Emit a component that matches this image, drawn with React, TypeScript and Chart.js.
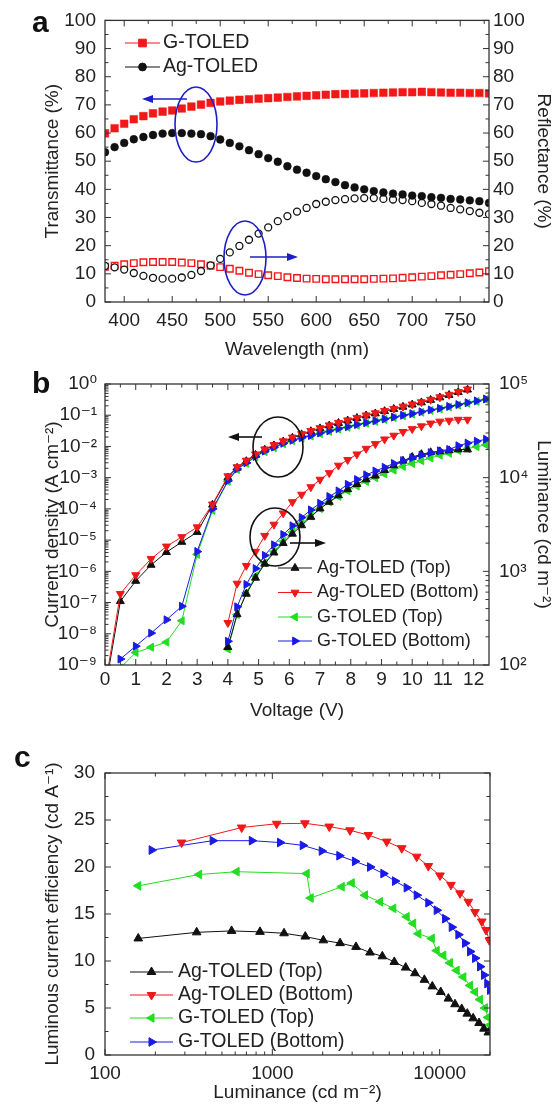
import React, { useEffect, useRef } from 'react';
import { Chart, registerables } from 'chart.js';

Chart.register(...registerables);

const FONT = "'Liberation Sans', Arial, 'DejaVu Sans', sans-serif";
const TXT = '#222222';
const AXIS = '#333333';
const RED = '#f01818';
const BLK = '#111111';
const GRN = '#22dd22';
const BLU = '#1a1ae6';
const ANN_BLUE = '#1e1ec8';

// ---------------- Panel a: transmittance / reflectance ----------------
const WAVELENGTH = [380, 390, 400, 410, 420, 430, 440, 450, 460, 470, 480, 490, 500, 510, 520, 530, 540, 550, 560, 570, 580, 590, 600, 610, 620, 630, 640, 650, 660, 670, 680, 690, 700, 710, 720, 730, 740, 750, 760, 770, 780];
const T_G_TOLED = [59.9, 61.7, 63.3, 64.9, 66.0, 67.0, 67.6, 68.0, 68.7, 69.4, 70.1, 70.7, 71.2, 71.5, 71.8, 72.0, 72.2, 72.4, 72.6, 72.8, 73.0, 73.2, 73.4, 73.6, 73.8, 73.9, 74.0, 74.1, 74.2, 74.3, 74.4, 74.5, 74.5, 74.6, 74.5, 74.4, 74.3, 74.3, 74.2, 74.2, 74.1];
const T_AG_TOLED = [53.2, 55.0, 56.5, 57.8, 58.6, 59.3, 59.8, 60.0, 60.0, 59.8, 59.6, 58.9, 57.7, 56.5, 55.3, 53.9, 52.5, 51.1, 49.8, 48.2, 47.0, 45.9, 44.7, 43.6, 42.6, 41.5, 40.7, 40.0, 39.4, 38.9, 38.5, 38.2, 37.8, 37.6, 37.2, 37.0, 36.6, 36.4, 36.1, 35.8, 35.2];
const R_G_TOLED = [12.5, 12.9, 13.4, 13.8, 14.1, 14.2, 14.2, 14.2, 14.0, 13.8, 13.4, 12.9, 12.4, 11.8, 11.1, 10.4, 9.9, 9.5, 9.2, 8.8, 8.5, 8.3, 8.2, 8.1, 8.1, 8.1, 8.1, 8.1, 8.2, 8.3, 8.4, 8.6, 8.8, 9.0, 9.2, 9.5, 9.7, 9.9, 10.2, 10.5, 10.9];
const R_AG_TOLED = [12.8, 12.3, 11.5, 10.3, 9.3, 8.6, 8.3, 8.3, 8.7, 9.6, 11.0, 13.0, 15.3, 17.6, 19.9, 22.1, 24.3, 26.5, 28.7, 30.5, 32.1, 33.4, 34.8, 35.6, 36.2, 36.5, 36.8, 36.9, 36.9, 36.6, 36.4, 36.2, 35.8, 35.2, 34.8, 34.2, 33.4, 32.9, 32.3, 31.7, 31.2];
const WL_TICKS = [400, 450, 500, 550, 600, 650, 700, 750];
const WL_MINOR = [425, 475, 525, 575, 625, 675, 725, 775];
const PCT_TICKS = [0, 10, 20, 30, 40, 50, 60, 70, 80, 90, 100];
const PCT_MINOR = [5, 15, 25, 35, 45, 55, 65, 75, 85, 95];

// ---------------- Panel b: J-V-L ----------------
const V_AG = [0, 0.5, 1, 1.5, 2, 2.5, 3, 3.5, 4, 4.3, 4.6, 4.9, 5.2, 5.5, 5.8, 6.1, 6.4, 6.7, 7, 7.3, 7.6, 7.9, 8.2, 8.5, 8.8, 9.1, 9.4, 9.7, 10, 10.3, 10.6, 10.9, 11.2, 11.5, 11.8];
const J_AG_TOP = [1.5e-10, 1.1e-7, 4.9e-7, 1.6e-6, 4.1e-6, 8.7e-6, 1.8e-5, 1.35e-4, 1.0e-3, 2.05e-3, 3.35e-3, 5.3e-3, 7.8e-3, 1.07e-2, 1.42e-2, 1.87e-2, 2.42e-2, 3.05e-2, 3.76e-2, 4.64e-2, 5.57e-2, 6.7e-2, 8.05e-2, 9.7e-2, 0.113, 0.134, 0.157, 0.185, 0.217, 0.255, 0.306, 0.368, 0.443, 0.545, 0.655];
const J_AG_BOTTOM = [2e-10, 1.9e-7, 7.6e-7, 2.5e-6, 6.3e-6, 1.26e-5, 2.6e-5, 1.4e-4, 1.12e-3, 2.19e-3, 3.55e-3, 5.62e-3, 8.13e-3, 1.12e-2, 1.48e-2, 1.95e-2, 2.51e-2, 3.16e-2, 3.89e-2, 4.79e-2, 5.75e-2, 6.92e-2, 8.32e-2, 0.1, 0.117, 0.138, 0.162, 0.191, 0.224, 0.263, 0.316, 0.38, 0.457, 0.562, 0.676];
const V_G = [0.5, 1, 1.5, 2, 2.5, 3, 3.5, 4, 4.3, 4.6, 4.9, 5.2, 5.5, 5.8, 6.1, 6.4, 6.7, 7, 7.3, 7.6, 7.9, 8.2, 8.5, 8.8, 9.1, 9.4, 9.7, 10, 10.3, 10.6, 10.9, 11.2, 11.5, 11.8, 12.1, 12.4];
const J_G_TOP = [8e-10, 2.5e-9, 3.7e-9, 5.4e-9, 2.6e-8, 3.5e-6, 8.9e-5, 7.6e-4, 1.82e-3, 2.88e-3, 4.6e-3, 6.8e-3, 9.1e-3, 1.21e-2, 1.52e-2, 1.83e-2, 2.15e-2, 2.58e-2, 3.03e-2, 3.57e-2, 4.1e-2, 4.8e-2, 5.52e-2, 6.34e-2, 7.3e-2, 8.35e-2, 9.6e-2, 0.108, 0.124, 0.142, 0.159, 0.183, 0.21, 0.241, 0.276, 0.318];
const J_G_BOTTOM = [1.55e-9, 4.0e-9, 1.05e-8, 2.8e-8, 7.6e-8, 4.3e-6, 1.0e-4, 7.9e-4, 1.9e-3, 3.0e-3, 4.8e-3, 7.1e-3, 9.5e-3, 1.26e-2, 1.58e-2, 1.9e-2, 2.24e-2, 2.69e-2, 3.16e-2, 3.72e-2, 4.27e-2, 5.0e-2, 5.75e-2, 6.6e-2, 7.6e-2, 8.7e-2, 0.1, 0.112, 0.129, 0.148, 0.166, 0.191, 0.219, 0.251, 0.288, 0.331];
const V_LUM_AG = [4, 4.3, 4.6, 4.9, 5.2, 5.5, 5.8, 6.1, 6.4, 6.7, 7, 7.3, 7.6, 7.9, 8.2, 8.5, 8.8, 9.1, 9.4, 9.7, 10, 10.3, 10.6, 10.9, 11.2, 11.5, 11.8];
const L_AG_TOP = [155, 347, 575, 851, 1202, 1585, 1995, 2512, 3090, 3802, 4677, 5495, 6457, 7499, 8511, 9550, 10470, 12020, 13490, 15140, 16600, 17780, 18620, 19050, 19500, 19950, 19950];
const L_AG_BOTTOM = [282, 741, 1148, 1622, 2399, 3162, 4169, 5495, 6607, 7943, 9550, 11220, 13490, 15490, 17780, 20420, 22910, 25700, 28180, 30900, 33110, 35480, 38020, 39810, 40740, 41690, 41690];
const V_LUM_G = [4, 4.3, 4.6, 4.9, 5.2, 5.5, 5.8, 6.1, 6.4, 6.7, 7, 7.3, 7.6, 7.9, 8.2, 8.5, 8.8, 9.1, 9.4, 9.7, 10, 10.3, 10.6, 10.9, 11.2, 11.5, 11.8, 12.1, 12.4];
const L_G_TOP = [148, 346, 589, 891, 1230, 1622, 2089, 2630, 3236, 3890, 4677, 5495, 6310, 7244, 8128, 9120, 10000, 10960, 12020, 13180, 14130, 15140, 16220, 17380, 18200, 19500, 20420, 21380, 22390];
const L_G_BOTTOM = [179, 418, 725, 1070, 1480, 1920, 2470, 3060, 3760, 4530, 5330, 6280, 7220, 8490, 9550, 10720, 11770, 12900, 14180, 15200, 16300, 17460, 18480, 19360, 20000, 21900, 23400, 24500, 25700];
const V_TICKS = [0, 1, 2, 3, 4, 5, 6, 7, 8, 9, 10, 11, 12];
const V_MINOR = [0.5, 1.5, 2.5, 3.5, 4.5, 5.5, 6.5, 7.5, 8.5, 9.5, 10.5, 11.5];
const J_TICKS = [1e-9, 1e-8, 1e-7, 1e-6, 1e-5, 1e-4, 1e-3, 1e-2, 1e-1, 1];
const LUM_TICKS = [1e2, 1e3, 1e4, 1e5];

// ---------------- Panel c: efficiency vs luminance ----------------
const C_L_AG_TOP = [158, 353, 571, 844, 1175, 1574, 2018, 2541, 3164, 3837, 4545, 5357, 6267, 7122, 8105, 9043, 10150, 11280, 12360, 13550, 14630, 15860, 17200, 18410, 19540];
const CE_AG_TOP = [12.4, 13.05, 13.2, 13.1, 12.95, 12.6, 12.2, 11.9, 11.5, 10.9, 10.5, 9.9, 9.3, 8.7, 8.0, 7.3, 6.7, 6.0, 5.4, 4.9, 4.4, 3.9, 3.4, 2.8, 2.4];
const C_L_AG_BOTTOM = [287, 656, 1062, 1567, 2190, 2913, 3748, 4828, 5935, 7294, 8557, 10050, 11690, 13240, 14840, 16280, 17860, 18930, 19820];
const CE_AG_BOTTOM = [22.6, 24.2, 24.6, 24.65, 24.3, 23.9, 23.4, 22.7, 22.0, 21.1, 20.1, 19.1, 18.1, 17.2, 16.3, 15.2, 14.2, 13.3, 12.2];
const C_L_G_TOP = [158, 365, 612, 1606, 1696, 2600, 2985, 3581, 4403, 5288, 6353, 6950, 7464, 8977, 9604, 10520, 11530, 12640, 13860, 15200, 16280, 17430, 18670, 19450, 20000];
const CE_G_TOP = [18.0, 19.2, 19.5, 19.3, 16.7, 17.9, 18.3, 17.0, 16.3, 15.6, 14.7, 14.0, 12.9, 12.4, 11.1, 10.6, 9.8, 9.0, 8.3, 7.4, 6.7, 5.9, 5.0, 4.0, 3.2];
const C_L_G_BOTTOM = [190, 440, 754, 1112, 1520, 1974, 2514, 3118, 3837, 4608, 5408, 6353, 7294, 8557, 9604, 10780, 11810, 12940, 14190, 15200, 16280, 17430, 18410, 19260, 20000];
const CE_G_BOTTOM = [21.8, 22.8, 22.8, 22.6, 22.3, 21.7, 21.2, 20.6, 20.0, 19.3, 18.5, 17.8, 17.0, 16.2, 15.4, 14.5, 13.6, 12.8, 11.9, 11.0, 10.3, 9.4, 8.5, 7.6, 6.9];
const LUMC_TICKS = [100, 1000, 10000];
const CE_TICKS = [0, 5, 10, 15, 20, 25, 30];
const CE_MINOR = [2.5, 7.5, 12.5, 17.5, 22.5, 27.5];

// --------------- helpers ---------------
const SUP: Record<string, string> = { '-': '\u207B', '0': '\u2070', '1': '\u00B9', '2': '\u00B2', '3': '\u00B3', '4': '\u2074', '5': '\u2075', '6': '\u2076', '7': '\u2077', '8': '\u2078', '9': '\u2079' };
const sup = (n: number) => String(n).split('').map((c) => SUP[c] || c).join('');
const pow10Label = (v: number) => '10' + sup(Math.round(Math.log10(v)));
const xy = (xs: number[], ys: number[]) => xs.map((x, i) => ({ x, y: ys[i] }));
const logMinor = (fromExp: number, toExp: number) => {
  const out: number[] = [];
  for (let e = fromExp; e < toExp; e++) for (let m = 2; m <= 9; m++) out.push(m * Math.pow(10, e));
  return out;
};
const setTicks = (vals: number[]) => (s: any) => { s.ticks = vals.map((v) => ({ value: v })); };
const fnt = (size: number) => ({ family: FONT, size });

function drawMarker(ctx: CanvasRenderingContext2D, style: string, rot: number, r: number, fill: string, stroke: string, x: number, y: number, bw: number) {
  ctx.save();
  ctx.fillStyle = fill;
  ctx.strokeStyle = stroke;
  ctx.lineWidth = bw;
  ctx.beginPath();
  if (style === 'circle') ctx.arc(x, y, r, 0, Math.PI * 2);
  else if (style === 'rect') { const s = r * Math.SQRT1_2; ctx.rect(x - s, y - s, 2 * s, 2 * s); }
  else {
    let a = (rot * Math.PI) / 180;
    ctx.moveTo(x + Math.sin(a) * r, y - Math.cos(a) * r);
    a += (2 * Math.PI) / 3;
    ctx.lineTo(x + Math.sin(a) * r, y - Math.cos(a) * r);
    a += (2 * Math.PI) / 3;
    ctx.lineTo(x + Math.sin(a) * r, y - Math.cos(a) * r);
    ctx.closePath();
  }
  ctx.fill();
  ctx.stroke();
  ctx.restore();
}

interface DecoCfg {
  ticks: { scale: string; sides: string[]; major: number[]; minor: number[] }[];
  letter: { text: string; x: number; y: number };
  legend?: { x1: number; x2: number; tx: number; size: number; items: { ds: number; y: number }[] };
  ellipses?: { cx: number; cy: number; rx: number; ry: number; color: string }[];
  arrows?: { x1: number; x2: number; y: number; color: string }[];
}

const deco = (cfg: DecoCfg) => ({
  id: 'deco',
  afterDraw(chart: any) {
    const ctx = chart.ctx as CanvasRenderingContext2D;
    const a = chart.chartArea;
    ctx.save();
    ctx.strokeStyle = AXIS;
    ctx.lineWidth = 1;
    for (const t of cfg.ticks) {
      const s = chart.scales[t.scale];
      const run = (vals: number[], len: number) => {
        for (const v of vals) {
          const p = s.getPixelForValue(v);
          for (const side of t.sides) {
            ctx.beginPath();
            if (side === 'bottom') { ctx.moveTo(p, a.bottom); ctx.lineTo(p, a.bottom - len); }
            else if (side === 'top') { ctx.moveTo(p, a.top); ctx.lineTo(p, a.top + len); }
            else if (side === 'left') { ctx.moveTo(a.left, p); ctx.lineTo(a.left + len, p); }
            else { ctx.moveTo(a.right, p); ctx.lineTo(a.right - len, p); }
            ctx.stroke();
          }
        }
      };
      run(t.major, 6);
      run(t.minor, 3.5);
    }
    ctx.lineWidth = 1.3;
    ctx.strokeRect(a.left, a.top, a.right - a.left, a.bottom - a.top);

    // annotations
    for (const e of cfg.ellipses || []) {
      ctx.strokeStyle = e.color;
      ctx.lineWidth = 1.6;
      ctx.beginPath();
      ctx.ellipse(e.cx, e.cy, e.rx, e.ry, 0, 0, Math.PI * 2);
      ctx.stroke();
    }
    for (const ar of cfg.arrows || []) {
      const dir = Math.sign(ar.x2 - ar.x1);
      ctx.strokeStyle = ar.color;
      ctx.fillStyle = ar.color;
      ctx.lineWidth = 1.6;
      ctx.beginPath();
      ctx.moveTo(ar.x1, ar.y);
      ctx.lineTo(ar.x2 - dir * 8, ar.y);
      ctx.stroke();
      ctx.beginPath();
      ctx.moveTo(ar.x2, ar.y);
      ctx.lineTo(ar.x2 - dir * 11, ar.y - 4);
      ctx.lineTo(ar.x2 - dir * 11, ar.y + 4);
      ctx.closePath();
      ctx.fill();
    }

    // legend
    if (cfg.legend) {
      const L = cfg.legend;
      for (const it of L.items) {
        const ds = chart.data.datasets[it.ds];
        ctx.strokeStyle = ds.borderColor;
        ctx.lineWidth = 1.1;
        ctx.beginPath();
        ctx.moveTo(L.x1, it.y);
        ctx.lineTo(L.x2, it.y);
        ctx.stroke();
        drawMarker(ctx, ds.pointStyle, ds.pointRotation || 0, ds.pointRadius, ds.pointBackgroundColor || ds.backgroundColor, ds.borderColor, (L.x1 + L.x2) / 2, it.y, 1);
        ctx.fillStyle = TXT;
        ctx.font = `${L.size}px ${FONT}`;
        ctx.textAlign = 'left';
        ctx.textBaseline = 'middle';
        ctx.fillText(ds.label, L.tx, it.y);
      }
    }

    // panel letter
    ctx.fillStyle = '#111';
    ctx.font = `bold 30px ${FONT}`;
    ctx.textAlign = 'left';
    ctx.textBaseline = 'alphabetic';
    ctx.fillText(cfg.letter.text, cfg.letter.x, cfg.letter.y);
    ctx.restore();
  },
});

const common = (padTop: number, padRight: number) => ({
  responsive: false,
  animation: false,
  events: [],
  devicePixelRatio: 1,
  layout: { padding: { top: padTop, right: padRight, left: 0, bottom: 0 } },
  plugins: { legend: { display: false }, tooltip: { enabled: false } },
});

const axisBase = {
  grid: { display: false, drawTicks: false },
  border: { display: false },
};

// ---------------- chart configs ----------------
function makeA(): any {
  return {
    type: 'line',
    data: {
      datasets: [
        { label: 'G-TOLED', data: xy(WAVELENGTH, T_G_TOLED), yAxisID: 'y', showLine: false, borderColor: RED, backgroundColor: RED, pointStyle: 'rect', pointRadius: 5.4, pointBorderWidth: 0.5, order: 1 },
        { label: 'Ag-TOLED', data: xy(WAVELENGTH, T_AG_TOLED), yAxisID: 'y', showLine: false, borderColor: BLK, backgroundColor: BLK, pointStyle: 'circle', pointRadius: 3.9, pointBorderWidth: 0.5, order: 0 },
        { label: 'G-TOLED (R)', data: xy(WAVELENGTH, R_G_TOLED), yAxisID: 'y1', showLine: false, borderColor: RED, backgroundColor: '#ffffff', pointStyle: 'rect', pointRadius: 4.6, pointBorderWidth: 1.4, order: 3 },
        { label: 'Ag-TOLED (R)', data: xy(WAVELENGTH, R_AG_TOLED), yAxisID: 'y1', showLine: false, borderColor: BLK, backgroundColor: '#ffffff', pointStyle: 'circle', pointRadius: 3.5, pointBorderWidth: 1.3, order: 2 },
      ],
    },
    options: {
      ...common(20, 0),
      scales: {
        x: {
          ...axisBase, type: 'linear', position: 'bottom', min: 380, max: 780,
          afterBuildTicks: setTicks(WL_TICKS), afterFit: (s: any) => { s.height = 70; },
          ticks: { font: fnt(19), color: TXT, padding: 7, autoSkip: false, maxRotation: 0, minRotation: 0 },
          title: { display: true, text: 'Wavelength (nm)', font: fnt(19), color: TXT, padding: { top: 0, bottom: 10.6 } },
        },
        y: {
          ...axisBase, type: 'linear', position: 'left', min: 0, max: 100,
          afterBuildTicks: setTicks(PCT_TICKS), afterFit: (s: any) => { s.width = 105; },
          ticks: { font: fnt(19), color: TXT, padding: 9, autoSkip: false },
          title: { display: true, text: 'Transmittance (%)', font: fnt(19), color: TXT, padding: { top: 41.6, bottom: 0 } },
        },
        y1: {
          ...axisBase, type: 'linear', position: 'right', min: 0, max: 100,
          afterBuildTicks: setTicks(PCT_TICKS), afterFit: (s: any) => { s.width = 67; },
          ticks: { font: fnt(19), color: TXT, padding: 4, autoSkip: false },
          title: { display: true, text: 'Reflectance (%)', font: fnt(19), color: TXT, padding: { top: 1.6, bottom: 0 } },
        },
      },
    },
    plugins: [deco({
      ticks: [
        { scale: 'x', sides: ['bottom', 'top'], major: WL_TICKS, minor: WL_MINOR },
        { scale: 'y', sides: ['left'], major: PCT_TICKS, minor: PCT_MINOR },
        { scale: 'y1', sides: ['right'], major: PCT_TICKS, minor: PCT_MINOR },
      ],
      letter: { text: 'a', x: 32, y: 32 },
      legend: { x1: 125, x2: 160, tx: 163, size: 19.5, items: [{ ds: 0, y: 43 }, { ds: 1, y: 67 }] },
      ellipses: [
        { cx: 196, cy: 124.5, rx: 21, ry: 37.5, color: ANN_BLUE },
        { cx: 245, cy: 258, rx: 21, ry: 37, color: ANN_BLUE },
      ],
      arrows: [
        { x1: 187, x2: 142, y: 99, color: ANN_BLUE },
        { x1: 250, x2: 298, y: 257, color: ANN_BLUE },
      ],
    })],
  };
}

const tri = (color: string, rot: number, r: number, order: number) => ({
  borderColor: color, backgroundColor: color, pointBackgroundColor: color, pointBorderColor: color,
  pointStyle: 'triangle', pointRotation: rot, pointRadius: r, pointBorderWidth: 1, borderWidth: 1, tension: 0, order,
});

function makeB(): any {
  const r = 4.6;
  return {
    type: 'line',
    data: {
      datasets: [
        { label: 'Ag-TOLED (Top)', data: xy(V_AG, J_AG_TOP), yAxisID: 'y', ...tri(BLK, 0, r, 2) },
        { label: 'Ag-TOLED (Bottom)', data: xy(V_AG, J_AG_BOTTOM), yAxisID: 'y', ...tri(RED, 180, r, 0) },
        { label: 'G-TOLED (Top)', data: xy(V_G, J_G_TOP), yAxisID: 'y', ...tri(GRN, 270, r, 3) },
        { label: 'G-TOLED (Bottom)', data: xy(V_G, J_G_BOTTOM), yAxisID: 'y', ...tri(BLU, 90, r, 1) },
        { label: 'Ag-TOLED (Top) L', data: xy(V_LUM_AG, L_AG_TOP), yAxisID: 'y2', ...tri(BLK, 0, r, 2) },
        { label: 'Ag-TOLED (Bottom) L', data: xy(V_LUM_AG, L_AG_BOTTOM), yAxisID: 'y2', ...tri(RED, 180, r, 0) },
        { label: 'G-TOLED (Top) L', data: xy(V_LUM_G, L_G_TOP), yAxisID: 'y2', ...tri(GRN, 270, r, 3) },
        { label: 'G-TOLED (Bottom) L', data: xy(V_LUM_G, L_G_BOTTOM), yAxisID: 'y2', ...tri(BLU, 90, r, 1) },
      ],
    },
    options: {
      ...common(22, 0),
      scales: {
        x: {
          ...axisBase, type: 'linear', position: 'bottom', min: 0, max: 12.5,
          afterBuildTicks: setTicks(V_TICKS), afterFit: (s: any) => { s.height = 67; },
          ticks: { font: fnt(19), color: TXT, padding: 3.6, autoSkip: false, maxRotation: 0, minRotation: 0 },
          title: { display: true, text: 'Voltage (V)', font: fnt(19), color: TXT, padding: { top: 0, bottom: 9.6 } },
        },
        y: {
          ...axisBase, type: 'logarithmic', position: 'left', min: 1e-9, max: 1,
          afterBuildTicks: setTicks(J_TICKS), afterFit: (s: any) => { s.width = 105; },
          ticks: { font: fnt(19), color: TXT, padding: 8, autoSkip: false, callback: (v: any) => pow10Label(Number(v)) },
          title: { display: true, text: 'Current density (A cm\u207B\u00B2)', font: fnt(19), color: TXT, padding: { top: 41.6, bottom: 0 } },
        },
        y2: {
          ...axisBase, type: 'logarithmic', position: 'right', min: 100, max: 1e5,
          afterBuildTicks: setTicks(LUM_TICKS), afterFit: (s: any) => { s.width = 67; },
          ticks: { font: fnt(19), color: TXT, padding: 10, autoSkip: false, callback: (v: any) => pow10Label(Number(v)) },
          title: { display: true, text: 'Luminance (cd m\u207B\u00B2)', font: fnt(19), color: TXT, padding: { top: 1.6, bottom: 0 } },
        },
      },
    },
    plugins: [deco({
      ticks: [
        { scale: 'x', sides: ['bottom', 'top'], major: V_TICKS, minor: V_MINOR },
        { scale: 'y', sides: ['left'], major: J_TICKS, minor: logMinor(-9, 0) },
        { scale: 'y2', sides: ['right'], major: LUM_TICKS, minor: logMinor(2, 5) },
      ],
      letter: { text: 'b', x: 32, y: 31 },
      legend: { x1: 278, x2: 312, tx: 317, size: 18, items: [{ ds: 0, y: 206 }, { ds: 1, y: 230.5 }, { ds: 2, y: 255 }, { ds: 3, y: 279 }] },
      ellipses: [
        { cx: 278, cy: 85, rx: 25, ry: 30, color: BLK },
        { cx: 275, cy: 175, rx: 25, ry: 29, color: BLK },
      ],
      arrows: [
        { x1: 262, x2: 228, y: 75, color: BLK },
        { x1: 290, x2: 326, y: 181, color: BLK },
      ],
    })],
  };
}

function makeC(): any {
  const r = 5;
  return {
    type: 'line',
    data: {
      datasets: [
        { label: 'Ag-TOLED (Top)', data: xy(C_L_AG_TOP, CE_AG_TOP), ...tri(BLK, 0, r, 0) },
        { label: 'Ag-TOLED (Bottom)', data: xy(C_L_AG_BOTTOM, CE_AG_BOTTOM), ...tri(RED, 180, r, 1) },
        { label: 'G-TOLED (Top)', data: xy(C_L_G_TOP, CE_G_TOP), ...tri(GRN, 270, r, 3) },
        { label: 'G-TOLED (Bottom)', data: xy(C_L_G_BOTTOM, CE_G_BOTTOM), ...tri(BLU, 90, r, 2) },
      ],
    },
    options: {
      ...common(133, 66),
      scales: {
        x: {
          ...axisBase, type: 'logarithmic', position: 'bottom', min: 100, max: 20000,
          afterBuildTicks: setTicks(LUMC_TICKS), afterFit: (s: any) => { s.height = 50; },
          ticks: { font: fnt(19), color: TXT, padding: 7.6, autoSkip: false, maxRotation: 0, minRotation: 0, callback: (v: any) => String(Math.round(Number(v))) },
          title: { display: true, text: 'Luminance (cd m\u207B\u00B2)', font: fnt(19), color: TXT, padding: { top: 0, bottom: 0.6 } },
        },
        y: {
          ...axisBase, type: 'linear', position: 'left', min: 0, max: 30,
          afterBuildTicks: setTicks(CE_TICKS), afterFit: (s: any) => { s.width = 105; },
          ticks: { font: fnt(19), color: TXT, padding: 10, autoSkip: false },
          title: { display: true, text: 'Luminous current efficiency (cd A\u207B\u00B9)', font: fnt(19), color: TXT, padding: { top: 41.6, bottom: 0 } },
        },
      },
    },
    plugins: [deco({
      ticks: [
        { scale: 'x', sides: ['bottom', 'top'], major: LUMC_TICKS, minor: logMinor(2, 4).concat([20000]) },
        { scale: 'y', sides: ['left', 'right'], major: CE_TICKS, minor: CE_MINOR },
      ],
      letter: { text: 'c', x: 14, y: 127 },
      legend: { x1: 130, x2: 173, tx: 178, size: 19.5, items: [{ ds: 0, y: 332 }, { ds: 1, y: 355 }, { ds: 2, y: 378 }, { ds: 3, y: 402 }] },
    })],
  };
}

function ChartCanvas({ top, height, make }: { top: number; height: number; make: () => any }) {
  const ref = useRef<HTMLCanvasElement>(null);
  useEffect(() => {
    const chart = new Chart(ref.current as HTMLCanvasElement, make());
    return () => chart.destroy();
  }, []);
  return (
    <canvas
      ref={ref}
      width={556}
      height={height}
      style={{ position: 'absolute', left: 0, top, width: 556, height, display: 'block' }}
    />
  );
}

export default function App() {
  return (
    <div style={{ position: 'absolute', left: 0, top: 0, width: 556, height: 1105, background: '#ffffff', overflow: 'hidden' }}>
      <ChartCanvas top={0} height={372} make={makeA} />
      <ChartCanvas top={362} height={370} make={makeB} />
      <ChartCanvas top={640} height={465} make={makeC} />
    </div>
  );
}
